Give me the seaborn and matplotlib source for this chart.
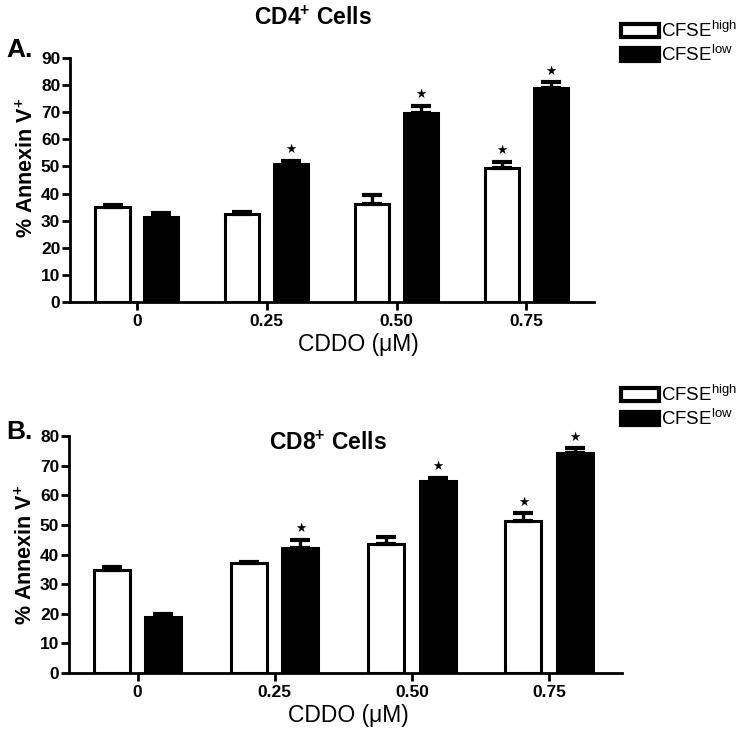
import pandas as pd
import seaborn as sns
import matplotlib.pyplot as plt
from matplotlib.patches import Patch

# values (mean and upper SEM)
doses = ['0', '0.25', '0.50', '0.75']
groups = ['high', 'low']

cd4_high = [35.0, 32.6, 36.1, 49.5]
cd4_high_err = [0.8, 0.7, 3.5, 2.1]
cd4_low = [31.3, 50.8, 69.6, 79.0]
cd4_low_err = [1.7, 1.2, 2.6, 2.0]

cd8_high = [34.7, 37.0, 43.4, 51.3]
cd8_high_err = [1.0, 0.5, 2.4, 2.6]
cd8_low = [19.0, 42.1, 64.8, 74.4]
cd8_low_err = [0.9, 2.7, 1.0, 1.4]

star_high = [False, False, False, True]
star_low = [False, True, True, True]

sns.set_theme(style='ticks')
plt.rcParams['font.family'] = ['Liberation Sans', 'DejaVu Sans']
plt.rcParams['mathtext.fontset'] = 'custom'
plt.rcParams['mathtext.rm'] = 'Liberation Sans'
plt.rcParams['mathtext.bf'] = 'Liberation Sans:bold'
plt.rcParams['mathtext.it'] = 'Liberation Sans:italic'
for k in ['text.color', 'axes.labelcolor', 'xtick.color', 'ytick.color', 'axes.edgecolor']:
    plt.rcParams[k] = 'black'


def make_df(high, low):
    return pd.DataFrame({
        'dose': doses * 2,
        'cfse': ['high'] * 4 + ['low'] * 4,
        'val': high + low,
    })


def panel(ax, high, high_err, low, low_err, ymax, xlim, xlab_x, ylab_y):
    df = make_df(high, low)
    sns.barplot(data=df, x='dose', y='val', hue='cfse', hue_order=groups,
                palette={'high': 'white', 'low': 'black'}, edgecolor='black',
                linewidth=2.2, width=0.75, gap=0.3, errorbar=None,
                legend=False, ax=ax)
    for cont, err, stars in zip(ax.containers, [high_err, low_err], [star_high, star_low]):
        for bar, e, s in zip(cont.patches, err, stars):
            xc = bar.get_x() + bar.get_width() / 2
            top = bar.get_height()
            ax.errorbar(xc, top, yerr=[[0], [e]], fmt='none', ecolor='black',
                        elinewidth=2.4, capsize=7.5, capthick=3, zorder=3)
            if s:
                ax.annotate('★', (xc, top + e), xytext=(0, 3.5), textcoords='offset points',
                            ha='center', va='bottom', fontsize=9, family='DejaVu Sans')
    ax.set_ylim(0, ymax)
    ax.set_yticks(range(0, ymax + 1, 10))
    ax.set_xlim(*xlim)
    sns.despine(ax=ax)
    for sp in ['left', 'bottom']:
        ax.spines[sp].set_linewidth(2)
    ax.tick_params(width=2, length=5.5, labelsize=12.5, pad=1.5)
    ax.tick_params(axis='x', pad=3)
    for lab in ax.get_xticklabels() + ax.get_yticklabels():
        lab.set_fontweight('bold')
    ax.set_xlabel('CDDO (μM)', fontsize=16.5, labelpad=3)
    ax.set_ylabel('% Annexin V$^{\\mathbf{+}}$', fontsize=15.5, fontweight='bold', labelpad=2)
    ax.xaxis.label.set_x(xlab_x)
    ax.yaxis.label.set_y(ylab_y)


fig = plt.figure(figsize=(7.5, 7.39), dpi=100)
ax1 = fig.add_axes([0.0933, 0.5913, 0.6987, 0.3302])
ax2 = fig.add_axes([0.092, 0.0893, 0.737, 0.3207])

panel(ax1, cd4_high, cd4_high_err, cd4_low, cd4_low_err, 90, (-0.515, 3.52), 0.55, 0.55)
panel(ax2, cd8_high, cd8_high_err, cd8_low, cd8_low_err, 80, (-0.50, 3.53), 0.505, 0.5)

fig.text(0.417, 0.976, 'CD4$^{\\mathbf{+}}$ Cells', ha='center', va='center',
         fontsize=16.5, fontweight='bold')
fig.text(0.437, 0.4005, 'CD8$^{\\mathbf{+}}$ Cells', ha='center', va='center',
         fontsize=16.5, fontweight='bold')
fig.text(0.009, 0.932, 'A.', ha='left', va='center', fontsize=19, fontweight='bold')
fig.text(0.008, 0.415, 'B.', ha='left', va='center', fontsize=19, fontweight='bold')

handles = [Patch(facecolor='white', edgecolor='black', linewidth=3, joinstyle='round'),
           Patch(facecolor='black', edgecolor='black', linewidth=3, joinstyle='round')]
labels = ['CFSE$^{\\mathrm{high}}$', 'CFSE$^{\\mathrm{low}}$']
for ypos in [0.972, 0.479]:
    fig.legend(handles, labels, loc='upper left', bbox_to_anchor=(0.828, ypos),
               frameon=False, fontsize=13.5, handlelength=2.0, handleheight=0.7,
               handletextpad=0.15, labelspacing=0.2, borderpad=0, borderaxespad=0)

fig.savefig('out.png', dpi=100)
